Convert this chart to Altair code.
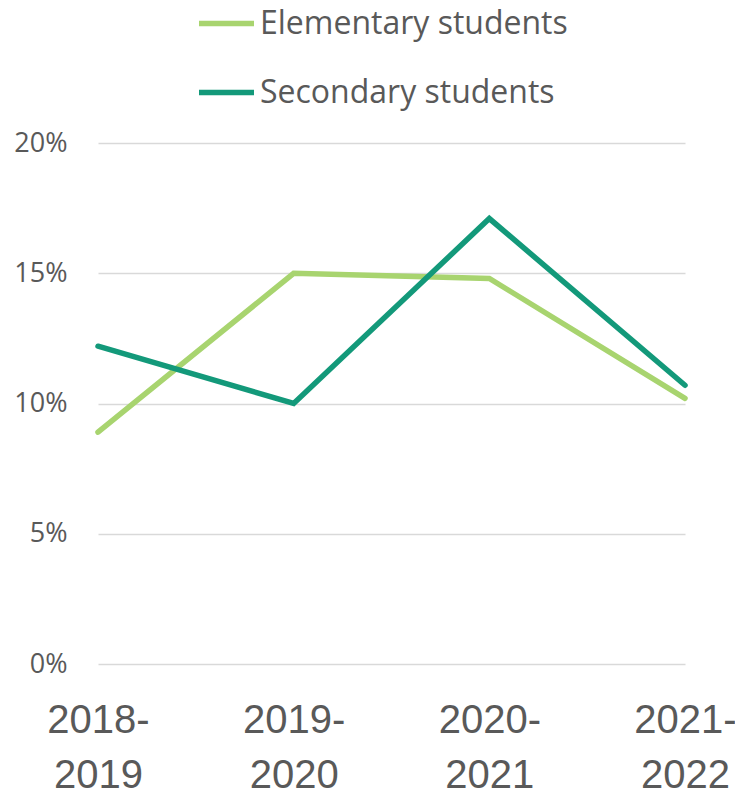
import altair as alt
import pandas as pd

years = ["2018-2019", "2019-2020", "2020-2021", "2021-2022"]
elementary = [8.9, 15.0, 14.8, 10.2]
secondary = [12.2, 10.0, 17.1, 10.7]
series_names = ["Elementary students", "Secondary students"]
colors = ["#A8D46F", "#13997A"]

rows = []
for y, v in zip(years, elementary):
    rows.append({"year": y, "value": v / 100, "series": series_names[0]})
for y, v in zip(years, secondary):
    rows.append({"year": y, "value": v / 100, "series": series_names[1]})
df = pd.DataFrame(rows)

W, H = 587, 521
txt = "#595959"

x = alt.X(
    "year:N",
    sort=years,
    scale=alt.Scale(type="point", padding=0, domain=years),
    axis=alt.Axis(
        title=None, domain=False, ticks=False, grid=False, labelAngle=0,
        labelExpr="[slice(datum.label,0,5), slice(datum.label,5)]",
        labelFont="Liberation Sans", labelFontSize=40, labelLineHeight=55,
        labelColor=txt, labelPadding=36,
        labelOverlap=False, labelBound=False, labelFlush=False,
    ),
)
yscale = alt.Scale(domain=[0, 0.2], nice=False)
y = alt.Y(
    "value:Q",
    scale=yscale,
    axis=alt.Axis(
        title=None, domain=False, ticks=False, values=[0, 0.05, 0.1, 0.15, 0.2],
        format=".0%", labelFont="Open Sans", labelFontSize=27, labelColor=txt,
        labelPadding=31, gridColor="#D9D9D9", gridWidth=1.5,
    ),
)

lines = alt.Chart(df).mark_line(strokeWidth=5.5, strokeCap="round", strokeJoin="miter").encode(
    x=x,
    y=y,
    color=alt.Color(
        "series:N",
        scale=alt.Scale(domain=series_names, range=colors),
        legend=alt.Legend(
            title=None, orient="none", legendX=98, legendY=-150, direction="vertical",
            symbolType="stroke", symbolSize=3025, symbolStrokeWidth=5.5,
            labelFont="Open Sans", labelFontSize=32, labelColor=txt,
            labelOffset=3, rowPadding=22, padding=0, labelLimit=500,
        ),
    ),
)

chart = lines.properties(
    width=W, height=H,
    autosize=alt.AutoSizeParams(type="none"),
    padding={"left": 90, "top": 135, "right": 727 - 90 - W, "bottom": 131},
).configure_view(stroke=None)

chart.save("out.html", embed_options={"renderer": "svg", "actions": False})
